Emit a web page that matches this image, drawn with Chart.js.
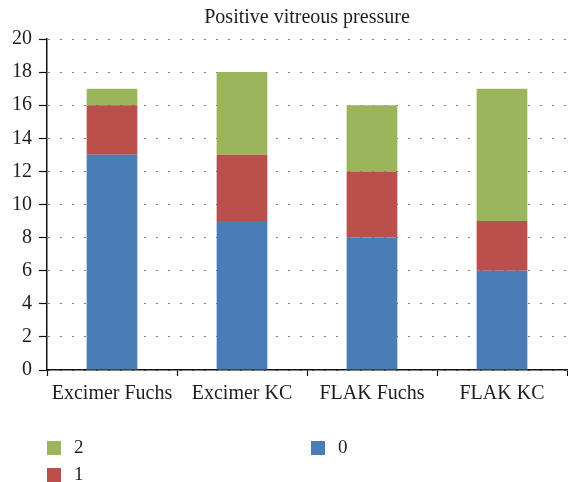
<!DOCTYPE html>
<html>
<head>
<meta charset="utf-8">
<script src="https://cdn.jsdelivr.net/npm/chart.js@4/dist/chart.umd.min.js"></script>
<style>
html,body{margin:0;padding:0;background:#fff;}
#wrap{width:568px;height:482px;position:relative;}
</style>
</head>
<body>
<div id="wrap"><canvas id="c" width="568" height="482"></canvas></div>
<script>
const chartTitle = "Positive vitreous pressure";
const categories = ["Excimer Fuchs", "Excimer KC", "FLAK Fuchs", "FLAK KC"];
const seriesNames = ["0", "1", "2"];
const series0 = [13, 9, 8, 6];
const series1 = [3, 4, 4, 3];
const series2 = [1, 5, 4, 8];
const seriesColors = ["#4A7CB6", "#BA4F4C", "#9AB55A"];
const yTicks = [0, 2, 4, 6, 8, 10, 12, 14, 16, 18, 20];

const FONT = "'Liberation Serif', 'DejaVu Serif', serif";
const TXT = "#1d1d1d";

const overlay = {
  id: 'overlay',
  afterDraw(chart) {
    const ctx = chart.ctx;
    const area = chart.chartArea;
    ctx.save();
    ctx.fillStyle = TXT;
    ctx.font = "20px " + FONT;
    ctx.textAlign = "center";
    ctx.textBaseline = "middle";
    ctx.fillText(chartTitle, (area.left + area.right) / 2, 18);
    const items = chart.data.datasets.map(d => ({label: d.label, color: d.backgroundColor})).reverse();
    ctx.font = "19px " + FONT;
    items.forEach((it, i) => {
      const col = Math.floor(i / 2), row = i % 2;
      const x = 47 + col * 264, y = 441 + row * 27;
      ctx.fillStyle = it.color;
      ctx.fillRect(x, y, 14, 14);
      ctx.fillStyle = TXT;
      ctx.textAlign = "left";
      ctx.fillText(it.label, x + 27, y + 7);
    });
    ctx.restore();
  }
};

new Chart(document.getElementById('c'), {
  type: 'bar',
  data: {
    labels: categories,
    datasets: [
      {label: seriesNames[0], data: series0, backgroundColor: seriesColors[0]},
      {label: seriesNames[1], data: series1, backgroundColor: seriesColors[1]},
      {label: seriesNames[2], data: series2, backgroundColor: seriesColors[2]}
    ]
  },
  options: {
    responsive: false,
    animation: false,
    devicePixelRatio: 1,
    layout: {padding: {top: 39, left: 0, right: 1, bottom: 72}},
    datasets: {bar: {categoryPercentage: 1.0, barPercentage: 0.39, borderWidth: 0}},
    plugins: {legend: {display: false}, title: {display: false}, tooltip: {enabled: false}},
    scales: {
      x: {
        stacked: true,
        afterFit(s) { s.height = 40; },
        grid: {display: true, drawOnChartArea: false, drawTicks: true, tickLength: 6, color: '#111', tickWidth: 1.2, offset: true},
        border: {display: true, color: '#111', width: 1.5},
        ticks: {color: TXT, font: {family: FONT, size: 20}, padding: 6, maxRotation: 0, autoSkip: false}
      },
      y: {
        stacked: true,
        min: 0, max: 20,
        afterFit(s) { s.width = 47; },
        afterBuildTicks(s) { s.ticks = yTicks.map(v => ({value: v})); },
        grid: {display: true, drawOnChartArea: true, drawTicks: true, tickLength: 8, color: '#000', tickColor: '#111', lineWidth: 1, tickWidth: 1.2, tickBorderDash: []},
        border: {display: true, color: '#111', width: 1.5, dash: [1, 11], dashOffset: -1},
        ticks: {color: TXT, font: {family: FONT, size: 20}, padding: 7}
      }
    }
  },
  plugins: [overlay]
});
</script>
</body>
</html>
